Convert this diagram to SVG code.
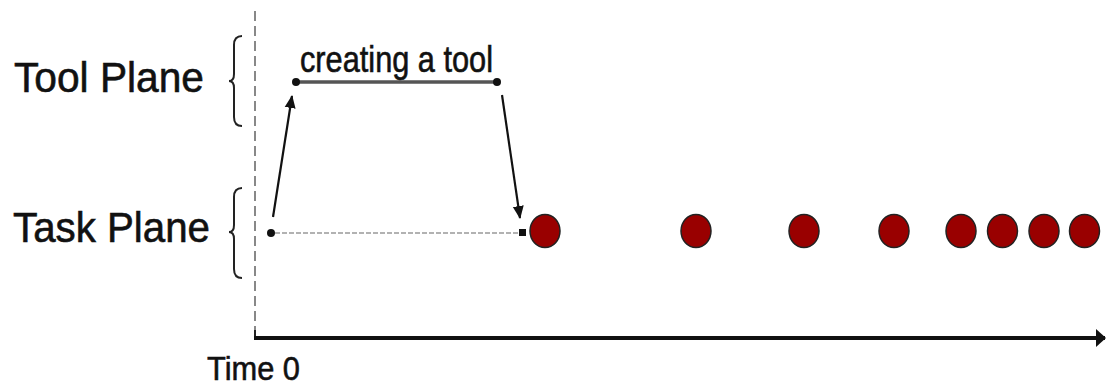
<svg xmlns="http://www.w3.org/2000/svg" width="1106" height="387" viewBox="0 0 1106 387">
<style>
.lbl{font-family:"Liberation Sans",Arial,sans-serif;fill:#111;stroke:#111;stroke-width:0.6;}
.brace{fill:none;stroke:#222;stroke-width:2;}
.evt{fill:#990000;stroke:#222;stroke-width:1.5;}
.arr{stroke:#111;stroke-width:2.2;fill:none;}
</style>
<defs>
<marker id="ah" markerUnits="userSpaceOnUse" markerWidth="13" markerHeight="13" viewBox="0 0 13 13" refX="12" refY="6.5" orient="auto">
<path d="M0,1 L13,6.5 L0,12 Z" fill="#111"/>
</marker>
<marker id="axh" markerUnits="userSpaceOnUse" markerWidth="10" markerHeight="18" viewBox="0 0 10 18" refX="9" refY="9" orient="auto">
<path d="M0,0 L10,9 L0,18 Z" fill="#111"/>
</marker>
</defs>
<g id="axes">
<line x1="255" y1="11" x2="255" y2="334" stroke="#888" stroke-width="2" stroke-dasharray="10,5"/>
<line x1="255" y1="330" x2="255" y2="340" stroke="#222" stroke-width="2"/>
<line x1="254" y1="338" x2="1105" y2="338" stroke="#111" stroke-width="4" marker-end="url(#axh)"/>
<text class="lbl" x="207" y="380" font-size="34" textLength="93" lengthAdjust="spacingAndGlyphs">Time 0</text>
</g>
<g id="tool-plane">
<text class="lbl" x="14" y="92" font-size="43" textLength="190" lengthAdjust="spacingAndGlyphs">Tool Plane</text>
<path class="brace" d="M242,36 Q234,36 234,45 L234,74 Q234,81 229,81 Q234,81 234,88 L234,117 Q234,126 242,126"/>
</g>
<g id="task-plane">
<text class="lbl" x="13" y="242" font-size="43" textLength="197" lengthAdjust="spacingAndGlyphs">Task Plane</text>
<path class="brace" d="M242,188 Q234,188 234,197 L234,225 Q234,232 229,232 Q234,232 234,239 L234,269 Q234,278 242,278"/>
</g>
<g id="creating-tool">
<line x1="296" y1="82" x2="497" y2="82" stroke="#555" stroke-width="3.5"/>
<circle cx="296" cy="82" r="4" fill="#111"/>
<circle cx="497" cy="82" r="4" fill="#111"/>
<text class="lbl" x="300" y="71.5" font-size="36" textLength="193" lengthAdjust="spacingAndGlyphs">creating a tool</text>
</g>
<g id="task-start">
<circle cx="271" cy="233" r="4" fill="#111"/>
</g>
<g id="task-end">
<rect x="519" y="229" width="7" height="7" fill="#111"/>
</g>
<g id="events">
<ellipse class="evt" cx="545" cy="231" rx="15" ry="16.5"/>
<ellipse class="evt" cx="696" cy="231" rx="15" ry="16.5"/>
<ellipse class="evt" cx="804" cy="231" rx="15" ry="16.5"/>
<ellipse class="evt" cx="894" cy="231" rx="15" ry="16.5"/>
<ellipse class="evt" cx="961" cy="231" rx="15" ry="16.5"/>
<ellipse class="evt" cx="1002.5" cy="231" rx="15" ry="16.5"/>
<ellipse class="evt" cx="1044" cy="231" rx="15" ry="16.5"/>
<ellipse class="evt" cx="1084.5" cy="231" rx="15" ry="16.5"/>
</g>
<g id="connectors">
<line x1="275" y1="233" x2="519" y2="233" stroke="#999" stroke-width="1.5" stroke-dasharray="5,2"/>
<line class="arr" x1="273" y1="217" x2="292" y2="96" marker-end="url(#ah)"/>
<line class="arr" x1="502" y1="95" x2="520" y2="218" marker-end="url(#ah)"/>
</g>
</svg>
